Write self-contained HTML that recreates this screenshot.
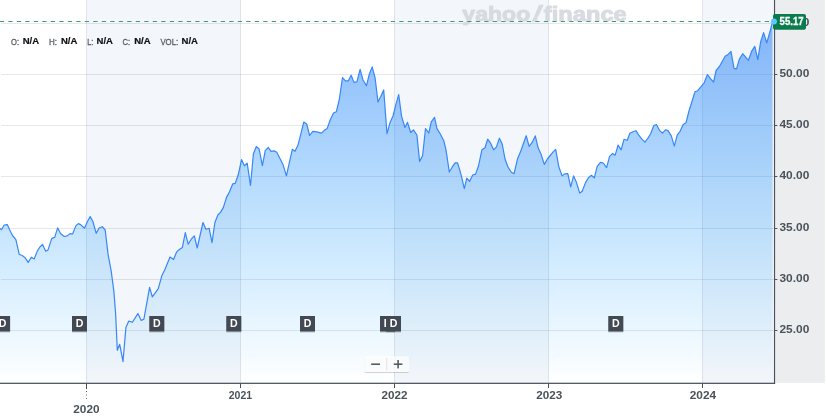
<!DOCTYPE html>
<html lang="en"><head><meta charset="utf-8"><title>Chart</title>
<style>
html,body{margin:0;padding:0;background:#fff;}
body{width:826px;height:417px;overflow:hidden;font-family:"Liberation Sans",Arial,sans-serif;}
svg{display:block}
text{font-family:"Liberation Sans",Arial,sans-serif;}
.ax{font-size:10.8px;font-weight:700;fill:#4a525a;}
.lab{font-size:9.8px;font-weight:400;fill:#555c63;stroke:#555c63;stroke-width:0.3px;}
.val{font-size:9.9px;font-weight:700;fill:#0f1114;stroke:#0f1114;stroke-width:0.2px;}
.d{font-size:10.6px;font-weight:700;fill:#fff;}
</style></head><body>
<svg width="826" height="417" viewBox="0 0 826 417">
<defs>
<linearGradient id="g" gradientUnits="userSpaceOnUse" x1="0" y1="0" x2="0" y2="383">
<stop offset="0" stop-color="#2f7ef7" stop-opacity="0.60"/>
<stop offset="1" stop-color="#00a0ff" stop-opacity="0"/>
</linearGradient>
<filter id="sh" x="-20%" y="-20%" width="140%" height="150%"><feDropShadow dx="0" dy="1" stdDeviation="0.7" flood-color="#000" flood-opacity="0.2"/></filter>
</defs>
<rect x="0" y="0" width="826" height="417" fill="#fff"/>

<rect x="86.5" y="0" width="154.0" height="383" fill="#f3f6fa"/>
<rect x="394.5" y="0" width="154.0" height="383" fill="#f3f6fa"/>
<rect x="702.5" y="0" width="70.5" height="383" fill="#f3f6fa"/>
<rect x="775" y="0" width="49.9" height="382.9" fill="#ecedef"/>
<rect x="86" y="0" width="1" height="383" fill="#5a6e8c" fill-opacity="0.16"/>
<rect x="240" y="0" width="1" height="383" fill="#5a6e8c" fill-opacity="0.16"/>
<rect x="394" y="0" width="1" height="383" fill="#5a6e8c" fill-opacity="0.16"/>
<rect x="548" y="0" width="1" height="383" fill="#5a6e8c" fill-opacity="0.16"/>
<rect x="702" y="0" width="1" height="383" fill="#5a6e8c" fill-opacity="0.16"/>
<rect x="1" y="23" width="773" height="1" fill="#141e28" fill-opacity="0.10"/>
<rect x="1" y="74" width="773" height="1" fill="#141e28" fill-opacity="0.10"/>
<rect x="1" y="125" width="773" height="1" fill="#141e28" fill-opacity="0.10"/>
<rect x="1" y="176" width="773" height="1" fill="#141e28" fill-opacity="0.10"/>
<rect x="1" y="228" width="773" height="1" fill="#141e28" fill-opacity="0.10"/>
<rect x="1" y="279" width="773" height="1" fill="#141e28" fill-opacity="0.10"/>
<rect x="1" y="330" width="773" height="1" fill="#141e28" fill-opacity="0.10"/>
<g fill="#d4d8df" stroke="#d4d8df" stroke-width="1.0" stroke-linejoin="round" opacity="0.9" font-weight="700" font-size="21px"><text x="462.3" y="20.5" textLength="68" lengthAdjust="spacingAndGlyphs">yahoo</text><text transform="translate(530.6,20.9) skewX(-24)" x="0" y="0" font-size="22.5px" stroke-width="1.5">!</text><text x="543.8" y="20.5" textLength="83" lengthAdjust="spacingAndGlyphs">finance</text></g>
<path d="M0.0,228.4 L1.5,229.7 L4.2,225.0 L7.3,224.6 L9.6,229.7 L12.5,235.5 L15.9,239.7 L19.2,254.3 L22.6,255.7 L25.0,257.6 L28.2,262.4 L31.3,257.2 L34.2,258.9 L37.4,250.9 L39.9,247.0 L42.6,244.5 L45.7,251.2 L48.0,249.9 L51.8,238.4 L54.7,237.4 L57.6,227.8 L60.5,233.6 L64.3,236.5 L67.2,235.9 L70.0,233.6 L72.6,234.0 L75.8,225.9 L78.3,223.6 L80.6,224.6 L84.5,228.2 L87.3,221.7 L90.2,216.6 L92.9,221.5 L96.2,233.3 L99.1,228.0 L102.3,226.7 L105.2,230.0 L108.0,253.9 L111.2,271.0 L113.9,291.6 L115.6,313.2 L117.3,350.3 L119.7,344.3 L123.0,361.6 L125.9,327.6 L128.8,321.1 L132.4,322.3 L137.9,313.6 L141.2,320.4 L143.9,319.2 L149.6,287.3 L152.3,296.9 L158.3,288.7 L161.8,275.8 L164.7,270.0 L170.0,257.0 L173.6,259.5 L176.5,252.2 L179.0,249.7 L182.4,247.4 L185.3,232.6 L188.2,244.2 L191.5,238.8 L194.3,235.9 L197.2,248.0 L203.0,222.5 L205.9,229.2 L209.1,228.2 L212.0,242.6 L214.9,222.5 L218.0,214.8 L220.5,212.4 L223.3,207.6 L226.5,197.4 L229.4,192.0 L232.7,183.9 L235.2,183.4 L238.4,174.3 L241.5,159.6 L244.4,165.7 L247.2,163.2 L250.5,185.5 L253.4,153.8 L256.3,146.5 L259.1,149.0 L262.4,165.7 L265.3,150.4 L268.4,147.5 L271.0,151.3 L274.1,150.9 L276.8,152.3 L283.1,164.8 L286.4,175.9 L289.0,164.1 L292.3,149.3 L295.0,151.3 L298.0,145.1 L303.8,122.1 L306.7,124.0 L309.6,135.5 L312.8,131.3 L315.7,131.7 L321.5,133.2 L324.3,130.3 L327.2,128.4 L330.3,119.8 L333.5,113.0 L336.3,111.8 L339.2,100.0 L342.5,77.6 L345.4,80.9 L348.2,80.9 L351.1,75.2 L354.0,82.4 L356.9,81.9 L360.1,69.4 L363.0,80.0 L366.5,85.7 L369.3,74.2 L372.2,66.9 L375.1,78.0 L378.0,102.0 L380.9,96.3 L383.7,89.9 L387.0,133.7 L389.9,123.1 L393.0,116.0 L395.8,104.9 L398.7,94.7 L401.6,116.4 L404.9,127.5 L407.5,122.4 L410.7,132.5 L413.4,129.8 L416.9,135.0 L419.6,161.4 L422.6,155.7 L425.5,128.6 L428.8,133.0 L431.3,121.9 L434.5,117.3 L437.0,128.6 L440.3,134.0 L443.8,140.7 L446.1,150.3 L449.3,172.0 L452.2,167.2 L455.1,162.8 L457.6,162.8 L461.0,174.3 L464.3,188.7 L466.8,178.1 L469.5,181.4 L472.7,175.0 L475.6,174.1 L478.5,166.0 L481.9,149.8 L485.0,147.8 L487.7,139.2 L490.7,143.4 L493.6,149.8 L496.5,146.9 L499.4,138.2 L502.2,144.0 L505.1,159.3 L508.0,167.0 L511.3,172.2 L514.1,173.7 L517.4,159.3 L520.9,150.7 L526.2,135.7 L529.1,146.3 L532.4,142.1 L535.3,135.9 L538.1,147.8 L541.2,154.6 L544.3,164.4 L547.4,159.0 L553.1,151.9 L555.7,149.4 L558.8,166.8 L562.1,175.9 L564.6,173.9 L567.8,173.6 L570.7,186.8 L573.6,175.9 L576.5,182.6 L579.7,193.1 L582.2,191.2 L585.5,182.6 L588.4,177.8 L591.4,175.3 L594.3,177.8 L597.2,166.3 L600.5,162.4 L603.3,163.0 L606.6,167.6 L609.5,156.7 L612.6,153.4 L615.2,155.2 L618.1,145.0 L621.1,149.9 L624.0,139.3 L627.3,140.3 L629.8,133.2 L633.0,131.8 L635.9,130.7 L638.8,135.1 L641.7,138.9 L644.9,142.2 L647.8,138.4 L650.7,133.8 L653.8,125.5 L656.4,124.5 L659.5,130.3 L662.4,133.2 L665.7,129.7 L668.2,130.9 L671.4,136.1 L674.3,146.2 L677.2,135.1 L680.1,131.3 L683.2,124.5 L686.0,122.8 L688.7,112.0 L695.0,91.7 L697.7,90.7 L704.0,83.2 L707.4,74.6 L710.7,78.8 L713.6,82.2 L716.1,70.5 L719.3,66.7 L725.1,56.3 L728.1,54.4 L731.0,51.4 L734.0,68.4 L736.5,68.9 L739.4,59.1 L742.7,53.7 L748.4,60.3 L751.7,51.2 L754.8,46.4 L757.8,59.6 L760.7,41.7 L763.6,32.6 L766.7,42.8 L769.6,33.0 L772.5,22.2 L772.5,383 L0,383 Z" fill="url(#g)"/>
<path d="M0.0,228.4 L1.5,229.7 L4.2,225.0 L7.3,224.6 L9.6,229.7 L12.5,235.5 L15.9,239.7 L19.2,254.3 L22.6,255.7 L25.0,257.6 L28.2,262.4 L31.3,257.2 L34.2,258.9 L37.4,250.9 L39.9,247.0 L42.6,244.5 L45.7,251.2 L48.0,249.9 L51.8,238.4 L54.7,237.4 L57.6,227.8 L60.5,233.6 L64.3,236.5 L67.2,235.9 L70.0,233.6 L72.6,234.0 L75.8,225.9 L78.3,223.6 L80.6,224.6 L84.5,228.2 L87.3,221.7 L90.2,216.6 L92.9,221.5 L96.2,233.3 L99.1,228.0 L102.3,226.7 L105.2,230.0 L108.0,253.9 L111.2,271.0 L113.9,291.6 L115.6,313.2 L117.3,350.3 L119.7,344.3 L123.0,361.6 L125.9,327.6 L128.8,321.1 L132.4,322.3 L137.9,313.6 L141.2,320.4 L143.9,319.2 L149.6,287.3 L152.3,296.9 L158.3,288.7 L161.8,275.8 L164.7,270.0 L170.0,257.0 L173.6,259.5 L176.5,252.2 L179.0,249.7 L182.4,247.4 L185.3,232.6 L188.2,244.2 L191.5,238.8 L194.3,235.9 L197.2,248.0 L203.0,222.5 L205.9,229.2 L209.1,228.2 L212.0,242.6 L214.9,222.5 L218.0,214.8 L220.5,212.4 L223.3,207.6 L226.5,197.4 L229.4,192.0 L232.7,183.9 L235.2,183.4 L238.4,174.3 L241.5,159.6 L244.4,165.7 L247.2,163.2 L250.5,185.5 L253.4,153.8 L256.3,146.5 L259.1,149.0 L262.4,165.7 L265.3,150.4 L268.4,147.5 L271.0,151.3 L274.1,150.9 L276.8,152.3 L283.1,164.8 L286.4,175.9 L289.0,164.1 L292.3,149.3 L295.0,151.3 L298.0,145.1 L303.8,122.1 L306.7,124.0 L309.6,135.5 L312.8,131.3 L315.7,131.7 L321.5,133.2 L324.3,130.3 L327.2,128.4 L330.3,119.8 L333.5,113.0 L336.3,111.8 L339.2,100.0 L342.5,77.6 L345.4,80.9 L348.2,80.9 L351.1,75.2 L354.0,82.4 L356.9,81.9 L360.1,69.4 L363.0,80.0 L366.5,85.7 L369.3,74.2 L372.2,66.9 L375.1,78.0 L378.0,102.0 L380.9,96.3 L383.7,89.9 L387.0,133.7 L389.9,123.1 L393.0,116.0 L395.8,104.9 L398.7,94.7 L401.6,116.4 L404.9,127.5 L407.5,122.4 L410.7,132.5 L413.4,129.8 L416.9,135.0 L419.6,161.4 L422.6,155.7 L425.5,128.6 L428.8,133.0 L431.3,121.9 L434.5,117.3 L437.0,128.6 L440.3,134.0 L443.8,140.7 L446.1,150.3 L449.3,172.0 L452.2,167.2 L455.1,162.8 L457.6,162.8 L461.0,174.3 L464.3,188.7 L466.8,178.1 L469.5,181.4 L472.7,175.0 L475.6,174.1 L478.5,166.0 L481.9,149.8 L485.0,147.8 L487.7,139.2 L490.7,143.4 L493.6,149.8 L496.5,146.9 L499.4,138.2 L502.2,144.0 L505.1,159.3 L508.0,167.0 L511.3,172.2 L514.1,173.7 L517.4,159.3 L520.9,150.7 L526.2,135.7 L529.1,146.3 L532.4,142.1 L535.3,135.9 L538.1,147.8 L541.2,154.6 L544.3,164.4 L547.4,159.0 L553.1,151.9 L555.7,149.4 L558.8,166.8 L562.1,175.9 L564.6,173.9 L567.8,173.6 L570.7,186.8 L573.6,175.9 L576.5,182.6 L579.7,193.1 L582.2,191.2 L585.5,182.6 L588.4,177.8 L591.4,175.3 L594.3,177.8 L597.2,166.3 L600.5,162.4 L603.3,163.0 L606.6,167.6 L609.5,156.7 L612.6,153.4 L615.2,155.2 L618.1,145.0 L621.1,149.9 L624.0,139.3 L627.3,140.3 L629.8,133.2 L633.0,131.8 L635.9,130.7 L638.8,135.1 L641.7,138.9 L644.9,142.2 L647.8,138.4 L650.7,133.8 L653.8,125.5 L656.4,124.5 L659.5,130.3 L662.4,133.2 L665.7,129.7 L668.2,130.9 L671.4,136.1 L674.3,146.2 L677.2,135.1 L680.1,131.3 L683.2,124.5 L686.0,122.8 L688.7,112.0 L695.0,91.7 L697.7,90.7 L704.0,83.2 L707.4,74.6 L710.7,78.8 L713.6,82.2 L716.1,70.5 L719.3,66.7 L725.1,56.3 L728.1,54.4 L731.0,51.4 L734.0,68.4 L736.5,68.9 L739.4,59.1 L742.7,53.7 L748.4,60.3 L751.7,51.2 L754.8,46.4 L757.8,59.6 L760.7,41.7 L763.6,32.6 L766.7,42.8 L769.6,33.0 L772.5,22.2" fill="none" stroke="#3787f9" stroke-width="1.2" stroke-linejoin="round" stroke-linecap="round"/>
<line x1="-0.2" y1="21.5" x2="774" y2="21.5" stroke="#3f9a76" stroke-width="1.1" stroke-dasharray="4.25 4.25"/>
<rect x="0" y="382.7" width="775.1" height="1.25" fill="#4a535e"/>
<rect x="773.9" y="0" width="1.2" height="383.8" fill="#4a535e"/>
<rect x="775" y="23" width="2.4" height="1" fill="#4a535e"/>
<text class="ax" x="779.5" y="25.9" textLength="29.8" lengthAdjust="spacingAndGlyphs">55.00</text>
<rect x="775" y="74" width="2.4" height="1" fill="#4a535e"/>
<text class="ax" x="779.5" y="76.9" textLength="29.8" lengthAdjust="spacingAndGlyphs">50.00</text>
<rect x="775" y="125" width="2.4" height="1" fill="#4a535e"/>
<text class="ax" x="779.5" y="127.9" textLength="29.8" lengthAdjust="spacingAndGlyphs">45.00</text>
<rect x="775" y="176" width="2.4" height="1" fill="#4a535e"/>
<text class="ax" x="779.5" y="178.9" textLength="29.8" lengthAdjust="spacingAndGlyphs">40.00</text>
<rect x="775" y="228" width="2.4" height="1" fill="#4a535e"/>
<text class="ax" x="779.5" y="230.9" textLength="29.8" lengthAdjust="spacingAndGlyphs">35.00</text>
<rect x="775" y="279" width="2.4" height="1" fill="#4a535e"/>
<text class="ax" x="779.5" y="281.9" textLength="29.8" lengthAdjust="spacingAndGlyphs">30.00</text>
<rect x="775" y="330" width="2.4" height="1" fill="#4a535e"/>
<text class="ax" x="779.5" y="332.9" textLength="29.8" lengthAdjust="spacingAndGlyphs">25.00</text>
<rect x="86" y="384" width="1" height="5" fill="#464e56"/>
<text class="ax" x="73.3" y="412.8" textLength="26.2" lengthAdjust="spacingAndGlyphs">2020</text>
<rect x="240" y="384" width="1" height="4" fill="#464e56"/>
<text class="ax" x="228.7" y="399.2" textLength="23.4" lengthAdjust="spacingAndGlyphs">2021</text>
<rect x="394" y="384" width="1" height="4" fill="#464e56"/>
<text class="ax" x="381.4" y="399.2" textLength="26" lengthAdjust="spacingAndGlyphs">2022</text>
<rect x="548" y="384" width="1" height="4" fill="#464e56"/>
<text class="ax" x="536.2" y="399.2" textLength="26" lengthAdjust="spacingAndGlyphs">2023</text>
<rect x="702" y="384" width="1" height="4" fill="#464e56"/>
<text class="ax" x="689.7" y="399.2" textLength="26.4" lengthAdjust="spacingAndGlyphs">2024</text>
<rect x="86" y="391" width="1" height="1" fill="#6b7279"/>
<rect x="86" y="394.5" width="1" height="1" fill="#6b7279"/>
<rect x="86" y="398" width="1" height="1" fill="#6b7279"/>
<text class="lab" x="11.1" y="44.5" textLength="8" lengthAdjust="spacingAndGlyphs">O:</text>
<text class="val" x="22.7" y="44" textLength="16.4" lengthAdjust="spacingAndGlyphs">N/A</text>
<text class="lab" x="48.9" y="44.5" textLength="8" lengthAdjust="spacingAndGlyphs">H:</text>
<text class="val" x="61" y="44" textLength="16.4" lengthAdjust="spacingAndGlyphs">N/A</text>
<text class="lab" x="87.2" y="44.5" textLength="6" lengthAdjust="spacingAndGlyphs">L:</text>
<text class="val" x="96.6" y="44" textLength="16.4" lengthAdjust="spacingAndGlyphs">N/A</text>
<text class="lab" x="122.6" y="44.5" textLength="7.6" lengthAdjust="spacingAndGlyphs">C:</text>
<text class="val" x="134.2" y="44" textLength="16.4" lengthAdjust="spacingAndGlyphs">N/A</text>
<text class="lab" x="160.4" y="44.5" textLength="17.8" lengthAdjust="spacingAndGlyphs">VOL:</text>
<text class="val" x="181.6" y="44" textLength="16.4" lengthAdjust="spacingAndGlyphs">N/A</text>
<g filter="url(#sh)"><rect x="-4.9" y="316" width="15" height="15.5" fill="#434a52"/></g>
<text class="d" x="-1.2" y="327.2">D</text>
<g filter="url(#sh)"><rect x="72" y="316" width="15" height="15.5" fill="#434a52"/></g>
<text class="d" x="75.7" y="327.2">D</text>
<g filter="url(#sh)"><rect x="149.3" y="316" width="15" height="15.5" fill="#434a52"/></g>
<text class="d" x="153.0" y="327.2">D</text>
<g filter="url(#sh)"><rect x="226.3" y="316" width="15" height="15.5" fill="#434a52"/></g>
<text class="d" x="230.0" y="327.2">D</text>
<g filter="url(#sh)"><rect x="300" y="316" width="15" height="15.5" fill="#434a52"/></g>
<text class="d" x="303.7" y="327.2">D</text>
<g filter="url(#sh)"><rect x="380" y="316" width="15" height="15.5" fill="#434a52"/></g>
<text class="d" x="383.7" y="327.2">D</text>
<g filter="url(#sh)"><rect x="386" y="316" width="15" height="15.5" fill="#434a52"/></g>
<text class="d" x="389.7" y="327.2">D</text>
<g filter="url(#sh)"><rect x="608.3" y="316" width="15" height="15.5" fill="#434a52"/></g>
<text class="d" x="612.0" y="327.2">D</text>
<g filter="url(#sh)"><rect x="364.5" y="356.5" width="44.5" height="15.5" rx="1.5" fill="#ffffff" fill-opacity="0.82"/></g>
<rect x="386.2" y="358" width="1" height="12.5" fill="#e2e4e7"/>
<rect x="371.2" y="363.4" width="8.8" height="1.6" fill="#555b61"/>
<rect x="393.8" y="363.4" width="8.6" height="1.6" fill="#555b61"/>
<rect x="397.3" y="360" width="1.6" height="8.4" fill="#555b61"/>
<rect x="773" y="14" width="33" height="15.7" rx="2" fill="#0a7b4c"/>
<circle cx="774" cy="21.5" r="3" fill="#5cc6ff"/>
<text x="779.6" y="25.1" font-size="10.6px" font-weight="700" fill="#fff" stroke="#fff" stroke-width="0.3" textLength="24" lengthAdjust="spacingAndGlyphs">55.17</text>
</svg></body></html>
